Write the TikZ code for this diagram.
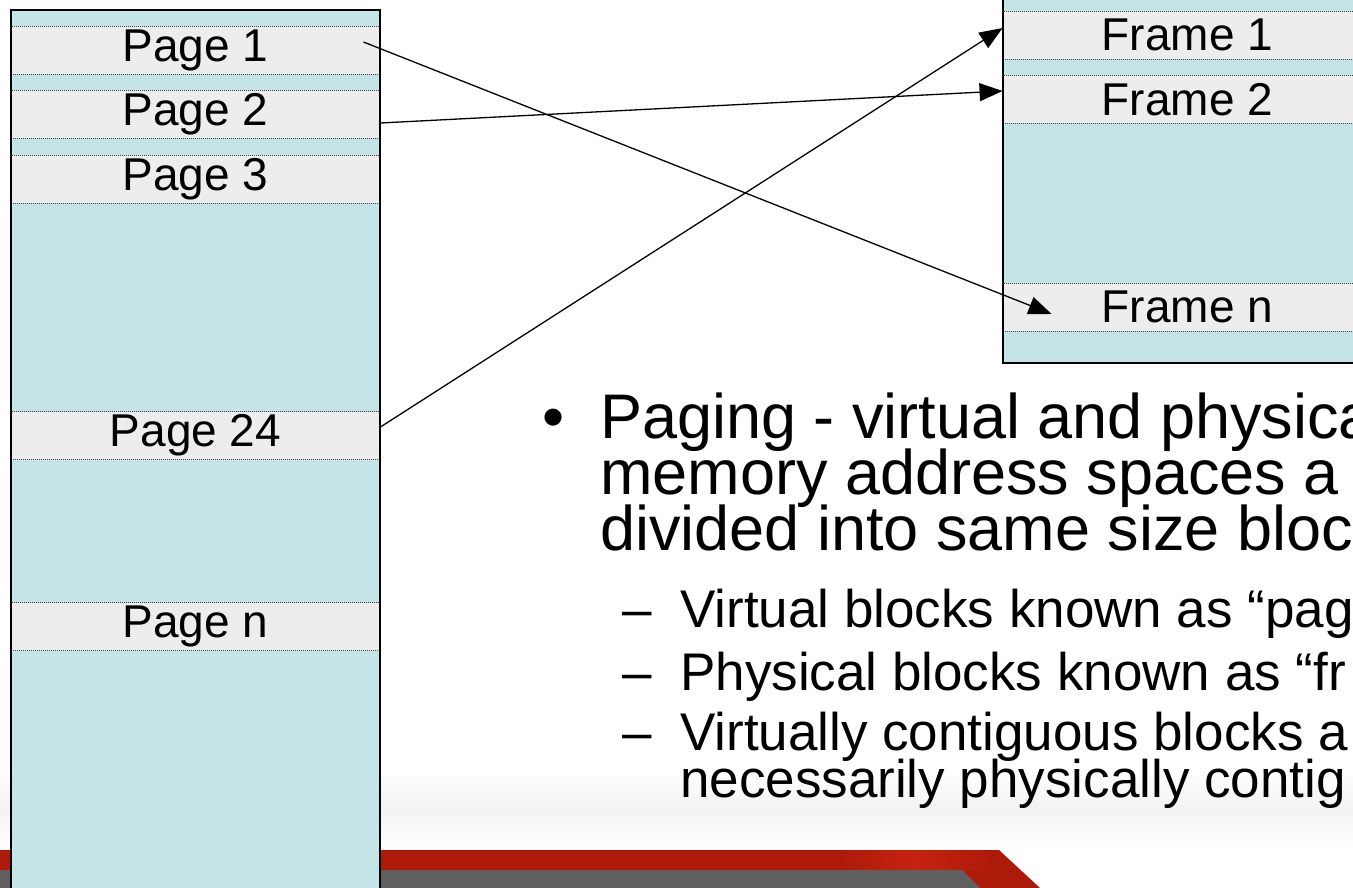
\documentclass[tikz,border=0pt]{standalone}
\usepackage{fontspec}
\setmainfont{Liberation Sans}
\usetikzlibrary{arrows.meta}
\definecolor{colfill}{RGB}{197,228,231}
\definecolor{bandfill}{RGB}{237,237,237}
\definecolor{barred}{RGB}{174,26,10}
\definecolor{barredhi}{RGB}{200,34,16}
\definecolor{bargrey}{RGB}{96,96,96}
\begin{document}
\begin{tikzpicture}[x=1pt,y=-1pt,
  memcol/.style={draw=black,line width=1.5pt},
  slot/.style={draw=black!75,dash pattern=on 1pt off 1pt,line width=0.9pt,
    fill=bandfill,minimum width=369pt,minimum height=48pt,inner sep=0pt,
    font=\fontsize{46}{50}\selectfont},
  link/.style={line width=1.3pt,-{Triangle[length=23pt,width=18pt]}},
  mainline/.style={anchor=base west,inner sep=0pt,font=\fontsize{63}{63}\selectfont},
  subline/.style={anchor=base west,inner sep=0pt,font=\fontsize{53}{53}\selectfont},
]
\useasboundingbox (0,0) rectangle (1353,888);
\clip (0,0) rectangle (1353,888);
\fill[white] (0,0) rectangle (1353,888);

% footer band of the slide
\shade[top color=white,bottom color=white,middle color=black!5] (0,770) rectangle (1353,846);
\fill[barred] (0,850) -- (999,850) -- (1040,888) -- (0,888) -- cycle;
\shade[left color=barred,right color=barred,middle color=barredhi] (840,850) rectangle (990,870);
\fill[bargrey] (0,870) -- (962,870) -- (980,888) -- (0,888) -- cycle;

% virtual address space
\filldraw[fill=colfill,memcol] (11,10) rectangle (380,900);
\node[slot] (p1)  at (195.5,50.5)  {Page 1};
\node[slot] (p2)  at (195.5,114)   {Page 2};
\node[slot] (p3)  at (195.5,179)   {Page 3};
\node[slot] (p24) at (195.5,435.5) {Page 24};
\node[slot] (pn)  at (195.5,626.5) {Page n};
\draw[memcol] (11,10) rectangle (380,900);

% physical memory
\filldraw[fill=colfill,memcol] (1003,-10) rectangle (1380,363);
\node[slot] (f1) at (1187.5,35)  {Frame 1};
\node[slot] (f2) at (1187.5,99.5) {Frame 2};
\node[slot] (fn) at (1187.5,307) {Frame n};
\draw[memcol] (1003,-10) rectangle (1380,363);

% page to frame mappings
\draw[link] ([xshift=-17pt,yshift=8.5pt]p1.east) -- ([xshift=49pt,yshift=-7pt]fn.west);
\draw[link] ([yshift=-9pt]p2.east) -- ([yshift=8.5pt]f2.west);
\draw[link] ([yshift=8.5pt]p24.east) -- ([yshift=7pt]f1.west);

% bullet text
\node[mainline] (bul) at (542,438) {•};
\node[mainline] (m1) at (600,438) {Paging - virtual and physica};
\node[mainline] (m2) at (600,494) {memory address spaces a};
\node[mainline] (m3) at (600,550) {divided into same size bloc};
\node[subline] (d1) at (622,627) {–};
\node[subline] (d2) at (622,690) {–};
\node[subline] (d3) at (622,750) {–};
\node[subline] (s1) at (680,627) {Virtual blocks known as “pag};
\node[subline] (s2) at (680,690) {Physical blocks known as “fr};
\node[subline] (s3) at (680,750) {Virtually contiguous blocks a};
\node[subline] (s4) at (680,797) {necessarily physically contig};
\end{tikzpicture}
\end{document}
